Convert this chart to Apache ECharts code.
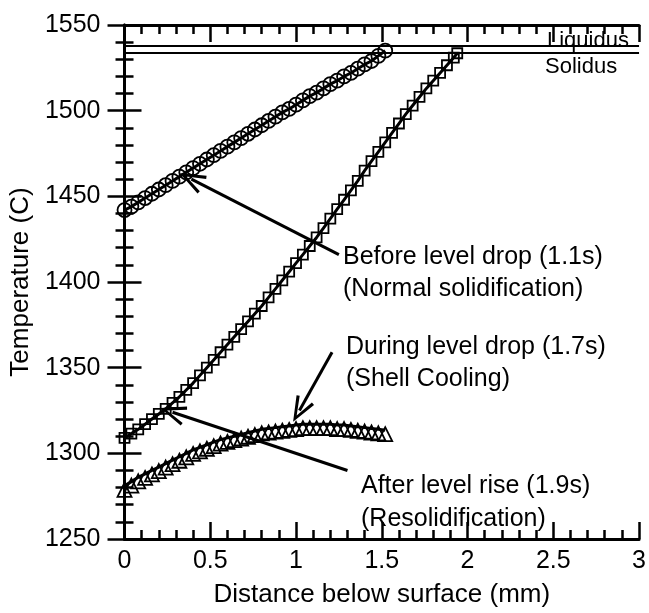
<!DOCTYPE html>
<html lang="en">
<head>
    <meta charset="UTF-8">
    <title>Temperature below surface</title>
    <style>
        html, body { margin: 0; padding: 0; background: #fff; }
        #main { width: 649px; height: 613px; }
    </style>
</head>
<body>
<div id="main"></div>
<script src="https://cdn.jsdelivr.net/npm/echarts@6/dist/echarts.min.js"></script>
<script>
  // distance below surface (mm)
  var distShort = [0, 0.04, 0.08, 0.12, 0.16, 0.2, 0.24, 0.28, 0.32, 0.36, 0.4, 0.44, 0.48, 0.52,
    0.56, 0.6, 0.64, 0.68, 0.72, 0.76, 0.8, 0.84, 0.88, 0.92, 0.96, 1.0, 1.04, 1.08, 1.12, 1.16,
    1.2, 1.24, 1.28, 1.32, 1.36, 1.4, 1.44, 1.48, 1.52];
  var distLong = [0, 0.04, 0.08, 0.12, 0.16, 0.2, 0.24, 0.28, 0.32, 0.36, 0.4, 0.44, 0.48, 0.52,
    0.56, 0.6, 0.64, 0.68, 0.72, 0.76, 0.8, 0.84, 0.88, 0.92, 0.96, 1.0, 1.04, 1.08, 1.12, 1.16,
    1.2, 1.24, 1.28, 1.32, 1.36, 1.4, 1.44, 1.48, 1.52, 1.56, 1.6, 1.64, 1.68, 1.72, 1.76, 1.8,
    1.84, 1.88, 1.92, 1.94];

  // temperatures (C)
  var beforeDrop = [1442, 1444, 1446.5, 1449, 1451.5, 1454, 1456.5, 1459, 1461.5, 1464, 1466.5,
    1469, 1471.5, 1474, 1476.5, 1479, 1481.5, 1484, 1486.5, 1489, 1491.5, 1494, 1496.5, 1499,
    1501, 1503.5, 1506, 1508.5, 1510.5, 1513, 1515.5, 1517.5, 1520, 1522, 1524.5, 1527, 1529,
    1532, 1535];
  var duringDrop = [1309, 1311.5, 1314, 1317, 1320, 1323, 1326, 1329.5, 1333, 1337, 1341, 1345.5,
    1350, 1354.5, 1359, 1363.5, 1368, 1372.5, 1377, 1381.5, 1386, 1391, 1396, 1401, 1406, 1411,
    1416, 1421, 1426, 1431.5, 1437, 1442.5, 1448, 1453.5, 1459, 1465, 1470.5, 1476, 1481.5, 1487,
    1492.5, 1498, 1503, 1508, 1513, 1517.5, 1522, 1526.5, 1531, 1533.5];
  var afterRise = [1281, 1283.5, 1286, 1288, 1290, 1292, 1294, 1296, 1298, 1300, 1302, 1303.5,
    1305, 1306.5, 1308, 1309, 1310, 1311, 1312, 1313, 1314, 1314.5, 1315, 1315.5, 1316, 1316.5,
    1317, 1317, 1317, 1317, 1317, 1316.5, 1316.5, 1316, 1315.5, 1315, 1314.5, 1314, 1313.5];

  var liquidus = 1538;
  var solidus = 1534;

  // arrows: [tail, head] in data units
  var arrows = [
    [[1.25, 1416], [0.39, 1460]],
    [[1.21, 1359], [1.02, 1325]],
    [[1.30, 1290], [0.28, 1324]]
  ];

  var FONT = 'Liberation Sans, Arial, Helvetica, sans-serif';
  var chevron = 'path://M10,0 L20,24 L17,25 L10,7 L3,25 L0,24 Z';

  function zip(xs, ys) {
    return xs.map(function (x, i) { return [x, ys[i]]; });
  }

  function axisBase(extra) {
    var a = {
      type: 'value',
      axisLine: { show: true, lineStyle: { color: '#000', width: 3 } },
      axisTick: { show: true, inside: true, length: 17, lineStyle: { color: '#000', width: 2.5 } },
      minorTick: { show: true, splitNumber: 5, length: 9, lineStyle: { color: '#000', width: 2.5 } },
      splitLine: { show: false },
      axisLabel: { show: false }
    };
    for (var k in extra) a[k] = extra[k];
    return a;
  }

  var myChart = echarts.init(document.getElementById('main'), null, { renderer: 'canvas' });

  var option = {
    animation: false,
    backgroundColor: '#fff',
    textStyle: { fontFamily: FONT },
    grid: { left: 124, right: 9, top: 25, bottom: 70 },
    xAxis: [
      axisBase({
        position: 'bottom', min: 0, max: 3, interval: 0.5,
        axisLabel: { show: true, fontSize: 25, color: '#000', margin: 10, fontFamily: FONT,
          formatter: function (v) { return String(v); } },
        name: 'Distance below surface (mm)', nameLocation: 'middle', nameGap: 43,
        nameTextStyle: { fontSize: 26, color: '#000', fontFamily: FONT }
      }),
      axisBase({ position: 'top', min: 0, max: 3, interval: 0.5 })
    ],
    yAxis: [
      axisBase({
        position: 'left', min: 1250, max: 1550, interval: 50,
        axisLabel: { show: true, fontSize: 25, color: '#000', margin: 24, fontFamily: FONT,
          formatter: function (v) { return String(v); } },
        name: 'Temperature (C)', nameLocation: 'middle', nameGap: 88,
        nameTextStyle: { fontSize: 26, color: '#000', fontFamily: FONT }
      }),
      axisBase({ position: 'right', min: 1250, max: 1550, interval: 50 })
    ],
    series: [
      {
        name: 'Before level drop (1.1s)',
        type: 'line',
        data: zip(distShort, beforeDrop),
        symbol: 'circle',
        symbolSize: 14,
        lineStyle: { color: '#000', width: 3 },
        itemStyle: { color: 'rgba(0,0,0,0)', borderColor: '#000', borderWidth: 1.8 },
        markLine: {
          silent: true,
          symbol: 'none',
          label: { show: false },
          lineStyle: { color: '#000', width: 1.8, type: 'solid' },
          data: [{ yAxis: liquidus }, { yAxis: solidus }]
        }
      },
      {
        name: 'During level drop (1.7s)',
        type: 'line',
        data: zip(distLong, duringDrop),
        symbol: 'rect',
        symbolSize: 10,
        lineStyle: { color: '#000', width: 3 },
        itemStyle: { color: 'rgba(0,0,0,0)', borderColor: '#000', borderWidth: 1.8 },
        markLine: {
          silent: true,
          symbol: ['none', chevron],
          symbolSize: [20, 26],
          label: { show: false },
          lineStyle: { color: '#000', width: 3, type: 'solid' },
          itemStyle: { color: '#000' },
          data: arrows.map(function (a) {
            return [{ coord: a[0] }, { coord: a[1] }];
          })
        }
      },
      {
        name: 'After level rise (1.9s)',
        type: 'line',
        data: zip(distShort, afterRise),
        symbol: 'triangle',
        symbolSize: 14,
        symbolOffset: [0, 4],
        lineStyle: { color: '#000', width: 3 },
        itemStyle: { color: 'rgba(0,0,0,0)', borderColor: '#000', borderWidth: 1.8 }
      }
    ],
    graphic: [
      { type: 'text', x: 547, y: 41, style: { text: 'Liquidus', font: '22px ' + FONT, fill: '#000', verticalAlign: 'middle' } },
      { type: 'text', x: 545, y: 67, style: { text: 'Solidus', font: '22px ' + FONT, fill: '#000', verticalAlign: 'middle' } },
      { type: 'text', x: 343, y: 257, style: { text: 'Before level drop (1.1s)', font: '25px ' + FONT, fill: '#000', verticalAlign: 'middle' } },
      { type: 'text', x: 343, y: 289, style: { text: '(Normal solidification)', font: '25px ' + FONT, fill: '#000', verticalAlign: 'middle' } },
      { type: 'text', x: 346, y: 347, style: { text: 'During level drop (1.7s)', font: '25px ' + FONT, fill: '#000', verticalAlign: 'middle' } },
      { type: 'text', x: 346, y: 379, style: { text: '(Shell Cooling)', font: '25px ' + FONT, fill: '#000', verticalAlign: 'middle' } },
      { type: 'text', x: 361, y: 486, style: { text: 'After level rise (1.9s)', font: '25px ' + FONT, fill: '#000', verticalAlign: 'middle' } },
      { type: 'text', x: 361, y: 519, style: { text: '(Resolidification)', font: '25px ' + FONT, fill: '#000', verticalAlign: 'middle' } }
    ]
  };
  myChart.setOption(option);
</script>
</body>
</html>
